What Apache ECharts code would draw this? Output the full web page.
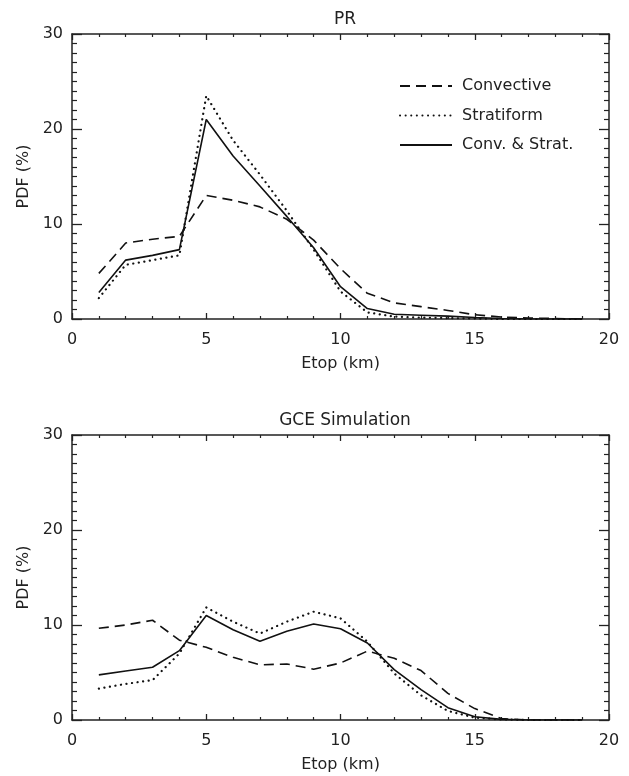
<!DOCTYPE html>
<html>
<head>
<meta charset="utf-8">
<script src="https://cdn.jsdelivr.net/npm/echarts@6/dist/echarts.min.js"></script>
<style>html,body{margin:0;padding:0;background:#fff}#c{width:629px;height:776px}</style>
</head>
<body>
<div id="c"></div>
<script>
// Etop (km)
const etop = [1,2,3,4,5,6,7,8,9,10,11,12,13,14,15,16,17,18,19];
// PR panel PDF (%)
const prConvective = [4.8,8.0,8.4,8.7,13.0,12.5,11.8,10.5,8.3,5.3,2.7,1.7,1.3,0.9,0.45,0.2,0.1,0.05,0];
const prStratiform = [2.2,5.7,6.2,6.7,23.5,18.8,15.2,11.4,7.3,2.9,0.7,0.25,0.15,0.1,0.05,0,0,0,0];
const prBoth       = [2.8,6.2,6.7,7.3,21.0,17.15,14.0,10.8,7.5,3.4,1.1,0.5,0.4,0.3,0.15,0.05,0,0,0];
// GCE Simulation panel PDF (%)
const gceConvective = [9.65,10.0,10.5,8.4,7.65,6.6,5.8,5.9,5.35,6.0,7.25,6.5,5.2,2.8,1.2,0.15,0,0,0];
const gceStratiform = [3.3,3.8,4.2,7.0,11.85,10.35,9.1,10.35,11.4,10.7,8.25,4.9,2.6,0.95,0.25,0.05,0,0,0];
const gceBoth       = [4.75,5.15,5.55,7.3,11.0,9.5,8.3,9.35,10.1,9.6,8.1,5.3,3.2,1.3,0.35,0.07,0,0,0];
const titles = ['PR','GCE Simulation'];
const seriesNames = ['Convective','Stratiform','Conv. & Strat.'];
const xTicks = [0,5,10,15,20];
const yTicks = [0,10,20,30];

const FONT = 'DejaVu Sans';
const INK = '#222';
const pairs = (ys) => etop.map((x,i)=>[x,ys[i]]);
const styles = [
  {type:[10,6], width:1.6},
  {type:[0.1,5.5], width:2.2, cap:'round'},
  {type:'solid', width:1.6}
];
const panels = [
  {top:34, data:[prConvective,prStratiform,prBoth]},
  {top:435, data:[gceConvective,gceStratiform,gceBoth]}
];
const grids=[], xAxes=[], yAxes=[], series=[], titleOpts=[];
panels.forEach((p,g)=>{
  grids.push({left:72, width:537, top:p.top, height:285, containLabel:false});
  titleOpts.push({text:titles[g], left:340, textAlign:'center', top:p.top-28,
    textStyle:{fontFamily:FONT, fontSize:17, fontWeight:'normal', color:INK}});
  const xBase = {type:'value', gridIndex:g, min:xTicks[0], max:xTicks[xTicks.length-1], interval:5,
    axisLine:{show:true, onZero:false, lineStyle:{color:INK, width:1.5}},
    axisTick:{show:true, inside:true, length:6, lineStyle:{color:INK, width:1.3}},
    minorTick:{show:true, splitNumber:5, length:3, lineStyle:{color:INK, width:1.2}},
    splitLine:{show:false}};
  xAxes.push(Object.assign({}, xBase, {position:'bottom', name:'Etop (km)', nameLocation:'middle', nameGap:37,
    nameTextStyle:{fontFamily:FONT, fontSize:16, color:INK},
    axisLabel:{show:true, margin:13, fontFamily:FONT, fontSize:16, color:INK}}));
  xAxes.push(Object.assign({}, xBase, {position:'top', axisLabel:{show:false}}));
  const yBase = {type:'value', gridIndex:g, min:yTicks[0], max:yTicks[yTicks.length-1], interval:10,
    axisLine:{show:true, onZero:false, lineStyle:{color:INK, width:1.5}},
    axisTick:{show:true, inside:true, length:10, lineStyle:{color:INK, width:1.3}},
    minorTick:{show:true, splitNumber:10, length:5, lineStyle:{color:INK, width:1.2}},
    splitLine:{show:false}};
  yAxes.push(Object.assign({}, yBase, {position:'left', name:'PDF (%)', nameLocation:'middle', nameGap:40,
    nameTextStyle:{fontFamily:FONT, fontSize:16, color:INK},
    axisLabel:{show:true, margin:9, fontFamily:FONT, fontSize:16, color:INK}}));
  yAxes.push(Object.assign({}, yBase, {position:'right', axisLabel:{show:false}}));
  p.data.forEach((ys,k)=>{
    series.push({type:'line', name:seriesNames[k], xAxisIndex:g*2, yAxisIndex:g*2,
      data:pairs(ys), symbol:'none', showSymbol:false, silent:true, animation:false,
      itemStyle:{color:'#111'},
      lineStyle:Object.assign({color:'#111'}, styles[k])});
  });
});

const chart = echarts.init(document.getElementById('c'));
chart.setOption({
  backgroundColor:'#fff',
  animation:false,
  title:titleOpts,
  grid:grids,
  xAxis:xAxes,
  yAxis:yAxes,
  legend:{show:true, orient:'vertical', left:394, top:73, itemWidth:52, itemHeight:14, itemGap:13.5,
    data:seriesNames, selectedMode:false,
    itemStyle:{opacity:0},
    textStyle:{fontFamily:FONT, fontSize:16, color:INK, padding:[0,0,0,5]}},
  series:series
});
</script>
</body>
</html>
